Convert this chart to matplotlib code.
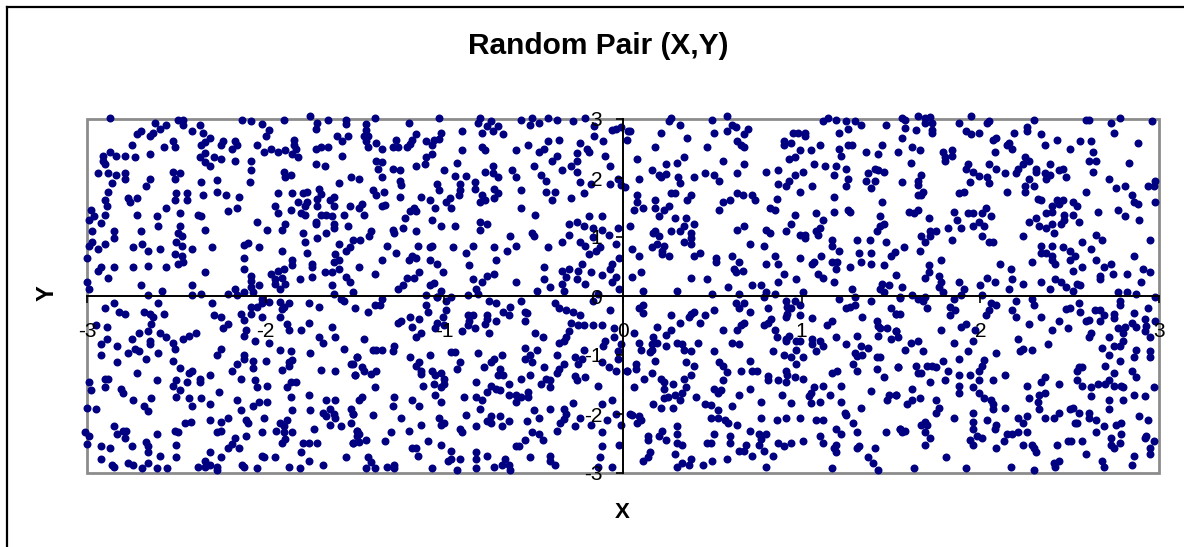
import matplotlib
matplotlib.use('Agg')
import matplotlib.pyplot as plt
import numpy as np
from matplotlib.lines import Line2D
from matplotlib.patches import Rectangle

# pairs, one list per stretch of the plot
top_1 = [(-2.87,3.02),(-2.62,2.93),(-2.56,2.90),(-2.59,2.83),(-2.63,2.77),(-2.65,2.72),(-2.70,2.80),(-2.72,2.75),(-2.75,2.56),(-2.49,2.99),(-2.46,2.99),(-2.46,2.90),(-2.37,2.90),(-2.41,2.80),(-2.35,2.77),(-2.31,2.68),(-2.34,2.61),(-2.36,2.56),(-2.52,2.62),(-2.51,2.53),(-2.57,2.53),(-2.65,2.41),(-2.24,2.62),(-2.25,2.56),(-2.17,2.62),(-2.16,2.56),(-2.19,2.50),(-2.13,2.99),(-2.08,2.96),(-2.02,2.92),(-1.98,2.82),(-2.00,2.72),(-1.90,2.99),(-1.75,3.05),(-1.71,2.93),(-1.72,2.83),(-1.65,2.99),(-1.55,2.99),(-1.55,2.92),(-1.60,2.72),(-1.54,2.72),(-1.57,2.62),(-1.84,2.65),(-1.84,2.56),(-1.83,2.50),(-1.85,2.41),(-1.82,2.35),(-1.89,2.47),(-1.93,2.44),(-1.97,2.50),(-2.01,2.44),(-2.05,2.56),(-1.72,2.50),(-1.69,2.53),(-1.65,2.53),(-1.57,2.38),(-1.72,2.23),(-1.67,2.20),(-2.87,2.44),(-2.91,2.38),(-2.91,2.29),(-2.90,2.23),(-2.84,2.38),(-2.79,2.38),(-2.73,2.36),(-2.94,2.08),(-2.88,2.08),(-2.84,2.05),(-2.79,2.08),(-2.79,1.98),(-2.86,1.92),(-2.65,1.98),(-2.67,1.86),(-2.52,2.11),(-2.48,2.08),(-2.51,1.98),(-2.37,2.35),(-2.34,2.42),(-2.29,2.35),(-2.25,2.32),(-2.34,2.27),(-2.31,2.20),(-2.17,2.29),(-2.08,2.29),(-2.08,2.14),(-1.90,2.11),(-1.86,2.05),(-1.89,2.01),(-2.09,1.93),(-2.27,1.96),(-2.36,1.93),(-2.50,1.74),(-2.44,1.74),(-2.51,1.62),(-2.44,1.62),(-2.35,1.71),(-2.27,1.77),(-2.22,1.71),(-2.15,1.68),(-2.16,1.50),(-2.21,1.44),(-2.88,1.77),(-2.90,1.62),(-2.89,1.52),(-2.98,1.46),(-2.77,1.66),(-2.76,1.59),(-2.72,1.66),(-2.56,1.50),(-2.72,1.37),(-2.61,1.35),(-2.48,1.40),(-2.38,1.37),(-2.36,1.35),(-2.60,1.19),(-2.48,1.19),(-2.34,1.12),(-2.70,1.10),(-2.85,1.10),(-2.85,0.98),(-2.97,1.10),(-2.99,1.29),(-2.96,1.35),(-2.90,1.37),(-2.92,1.23),(-2.49,1.07),(-2.47,1.01),(-2.50,0.91),(-2.47,0.85),(-2.41,0.80),(-2.30,0.83),(-2.51,0.71),(-2.47,0.67),(-2.46,0.58),(-2.49,0.55),(-2.59,0.80),(-2.66,0.77),(-2.69,0.88),(-2.74,0.83),(-2.90,0.88),(-2.97,0.92),(-2.99,0.85),(-2.94,0.80),(-3.00,0.64),(-2.92,0.49),(-2.94,0.43),(-2.85,0.49),(-2.74,0.49),(-2.66,0.51),(-2.56,0.49),(-2.34,0.40),(-2.88,0.31),(-3.00,0.24),(-2.99,0.12),(-2.70,0.19),(-2.58,0.09),(-2.41,0.19),(-2.66,0.01),(-2.41,0.01),(-2.36,0.03),(-2.21,0.03),(-2.17,0.12),(-2.16,0.01),(-2.12,0.06),(-2.08,0.15),(-2.04,0.19),(-2.07,0.06),(-2.08,0.34),(-2.08,0.26),(-2.12,0.46),(-2.12,0.64),(-2.12,0.86),(-2.10,0.89),(-2.04,0.83),(-1.91,0.77),(-2.05,1.25),(-1.99,1.12),(-1.91,1.12),(-1.89,1.22),(-1.93,1.40),(-1.95,1.53),(-1.93,1.74),(-1.85,1.74),(-1.82,1.59),(-1.86,1.46),(-1.79,1.74),(-1.77,1.77),(-1.70,1.81),(-1.69,1.73),(-1.71,1.64),(-1.77,1.59),(-1.78,1.52),(-1.71,1.53),(-1.62,1.67),(-1.64,1.62),(-1.62,1.53),(-1.59,1.92),(-1.52,2.01),(-1.48,1.98),(-1.53,1.53),(-1.48,1.50),(-1.80,1.40),(-1.78,1.37),(-1.69,1.37),(-1.66,1.37),(-1.63,1.35),(-1.56,1.37),(-1.72,1.25),(-1.72,1.22),(-1.62,1.22),(-1.62,1.15),(-1.54,1.19),(-1.79,1.07),(-1.66,1.07),(-1.71,0.98),(-1.78,0.91),(-1.59,0.88),(-1.51,0.95),(-1.53,0.83),(-1.55,0.77),(-1.77,0.73),(-1.61,0.71),(-1.59,0.61),(-1.62,0.58),(-1.85,0.61),(-1.85,0.53),(-1.74,0.55),(-1.74,0.49),(-1.74,0.33),(-1.67,0.40),(-1.63,0.40),(-1.59,0.46),(-1.55,0.33),(-1.53,0.24),(-1.63,0.19),(-1.62,0.03),(-1.51,0.06),(-1.97,0.37),(-1.93,0.43),(-1.90,0.46),(-1.95,0.29),(-1.95,0.21),(-1.91,0.31),(-1.89,0.21),(-1.92,0.12),(-1.81,0.28)]

top_2 = [(-1.39,3.02),(-1.44,2.92),(-1.44,2.82),(-1.43,2.72),(-1.45,2.72),(-1.44,2.62),(-1.43,2.53),(-1.38,2.59),(-1.35,2.50),(-1.29,2.53),(-1.27,2.65),(-1.26,2.53),(-1.21,2.53),(-1.18,2.65),(-1.19,2.58),(-1.16,2.75),(-1.20,2.94),(-1.03,3.02),(-1.10,2.62),(-1.07,2.56),(-1.06,2.65),(-1.03,2.66),(-1.02,2.77),(-0.90,2.80),(-0.81,2.93),(-0.80,3.02),(-0.74,2.96),(-0.76,2.88),(-0.73,2.80),(-0.70,2.88),(-0.79,2.77),(-0.67,2.75),(-0.57,2.99),(-0.51,3.02),(-0.52,2.90),(-0.47,2.93),(-0.42,3.02),(-0.37,2.99),(-0.28,2.96),(-0.21,3.02),(-0.16,2.88),(-0.16,2.72),(-0.11,2.62),(-0.04,2.83),(-0.01,2.86),(-0.06,2.82),(0.03,2.80),(0.02,2.65),(-0.79,2.53),(-0.77,2.47),(-0.90,2.47),(-1.07,2.41),(-1.10,2.35),(-1.11,2.23),(-1.16,2.20),(-0.93,2.25),(-1.00,2.13),(-1.38,2.29),(-1.35,2.27),(-1.37,2.16),(-1.29,2.16),(-1.25,2.13),(-1.35,2.01),(-1.25,1.95),(-1.24,1.88),(-1.40,1.80),(-1.34,1.77),(-1.38,1.71),(-1.25,1.68),(-1.13,1.68),(-1.08,1.62),(-1.04,1.90),(-1.03,1.80),(-0.97,1.66),(-0.99,1.59),(-0.96,1.50),(-1.05,1.50),(-0.94,2.04),(-0.88,2.04),(-0.91,1.90),(-0.91,1.80),(-0.92,1.71),(-0.83,1.93),(-0.83,1.82),(-0.77,2.11),(-0.73,2.20),(-0.73,2.08),(-0.70,2.01),(-0.72,1.82),(-0.70,1.74),(-0.72,1.66),(-0.79,1.71),(-0.77,1.62),(-0.80,1.59),(-0.62,2.13),(-0.60,2.01),(-0.57,1.80),(-0.57,1.50),(-0.60,2.47),(-0.53,2.56),(-0.50,2.20),(-0.46,2.05),(-0.43,1.95),(-0.43,1.77),(-0.38,1.77),(-0.40,1.62),(-0.47,2.44),(-0.44,2.50),(-0.42,2.62),(-0.36,2.65),(-0.40,2.29),(-0.37,2.38),(-0.34,2.13),(-0.29,2.20),(-0.26,2.42),(-0.26,2.29),(-0.26,2.11),(-0.24,2.60),(-0.20,2.50),(-0.19,2.44),(-0.10,2.38),(-0.07,2.20),(-0.24,1.93),(-0.18,1.89),(-0.07,1.89),(-0.03,1.98),(-0.01,1.88),(-0.22,1.74),(-0.29,1.66),(-0.49,1.37),(-0.19,1.35),(-0.12,1.35),(-0.30,1.22),(-0.26,1.25),(-0.22,1.19),(-0.17,1.16),(-0.12,1.12),(-0.03,1.16),(-0.30,1.03),(-0.08,1.03),(-0.34,0.92),(-0.24,0.92),(-0.21,0.85),(-0.17,1.00),(-0.04,0.88),(-0.13,0.83),(-0.15,0.77),(-0.19,0.71),(-0.02,0.64),(-0.23,0.55),(-0.30,0.46),(-0.34,0.43),(-0.25,0.43),(-0.18,0.40),(-0.12,0.36),(-0.07,0.46),(-0.06,0.55),(-0.04,0.33),(-0.06,0.24),(-0.32,0.32),(-0.34,0.21),(-0.26,0.28),(-0.21,0.21),(-0.33,0.09),(-0.41,0.16),(-0.44,0.28),(-0.44,0.49),(-0.48,0.09),(-0.60,0.24),(-0.02,0.12),(-1.46,1.56),(-1.45,1.37),(-1.35,1.53),(-1.33,1.55),(-1.22,1.32),(-1.17,1.50),(-1.19,1.44),(-1.16,1.44),(-1.07,1.28),(-1.02,1.19),(-0.94,1.19),(-0.80,1.25),(-0.76,1.22),(-0.80,1.12),(-1.29,1.12),(-1.28,1.07),(-1.23,1.16),(-1.16,1.10),(-1.41,1.10),(-1.42,1.01),(-1.47,0.95),(-1.32,0.85),(-1.27,0.73),(-1.15,0.85),(-1.07,0.85),(-1.08,0.83),(-0.95,0.83),(-0.84,0.85),(-0.88,0.73),(-0.72,0.83),(-0.65,0.77),(-0.60,0.85),(-0.63,1.01),(-0.51,1.07),(-0.50,1.01),(-0.42,0.83),(-0.71,0.61),(-1.18,0.67),(-1.16,0.64),(-1.20,0.61),(-1.35,0.61),(-1.08,0.61),(-1.04,0.55),(-1.48,0.49),(-1.39,0.37),(-0.86,0.53),(-1.01,0.40),(-1.14,0.40),(-1.17,0.30),(-1.21,0.30),(-1.23,0.19),(-1.26,0.12),(-1.08,0.19),(-1.06,0.22),(-1.02,0.09),(-1.10,0.01),(-1.04,-0.02),(-0.87,0.01),(-0.82,0.12),(-0.81,0.03),(-0.84,0.28),(-0.79,0.24),(-0.76,0.34),(-0.72,0.37)]

top_3 = [(0.27,3.02),(0.26,2.96),(0.32,2.90),(0.50,2.99),(0.58,3.05),(0.61,2.90),(0.63,2.86),(0.58,2.80),(0.51,2.77),(0.70,2.83),(0.68,2.75),(0.04,2.80),(0.21,2.77),(0.36,2.68),(0.18,2.53),(0.47,2.53),(0.64,2.62),(0.66,2.56),(0.68,2.53),(0.08,2.32),(0.34,2.35),(0.30,2.25),(0.24,2.23),(0.16,2.13),(0.20,2.05),(0.21,2.01),(0.24,2.07),(0.09,1.98),(0.31,2.01),(0.32,1.92),(0.40,2.01),(0.46,2.08),(0.51,2.05),(0.54,1.95),(0.56,2.28),(0.68,2.23),(0.64,2.08),(0.01,1.84),(0.08,1.71),(0.08,1.59),(0.06,1.46),(0.11,1.50),(0.18,1.62),(0.18,1.50),(0.23,1.46),(0.26,1.53),(0.27,1.74),(0.29,1.74),(0.38,1.71),(0.36,1.62),(0.20,1.35),(0.29,1.32),(0.35,1.32),(0.40,1.22),(0.34,1.19),(0.32,1.10),(0.27,1.10),(0.04,1.19),(0.17,1.07),(0.18,1.10),(0.20,1.01),(0.38,1.07),(0.38,0.98),(0.34,0.92),(0.38,0.88),(0.19,0.88),(0.23,0.85),(0.16,0.83),(0.22,0.77),(0.22,0.71),(0.26,0.67),(0.05,0.80),(0.09,0.67),(0.40,0.67),(0.43,0.73),(0.52,0.64),(0.52,0.57),(0.61,0.67),(0.65,0.58),(0.05,0.33),(0.10,0.40),(0.11,0.09),(0.30,0.09),(0.38,0.31),(0.47,0.28),(0.50,0.03),(0.59,0.16),(0.65,0.03),(0.62,0.46),(0.63,0.40),(0.67,0.43),(0.72,0.19),(0.77,0.19),(0.80,0.06),(0.79,-0.01),(0.85,0.03),(0.87,0.24),(0.90,0.37),(0.97,0.28),(1.01,0.06),(0.80,2.11),(0.87,2.13),(0.87,1.89),(0.91,1.86),(0.93,1.95),(0.96,2.05),(1.01,2.11),(0.99,1.77),(1.06,1.86),(1.07,2.23),(1.13,2.20),(1.18,2.05),(1.19,2.20),(1.25,2.16),(1.26,1.98),(1.25,1.86),(1.18,1.68),(1.36,1.95),(1.39,1.83),(1.41,1.95),(1.37,2.08),(1.41,2.16),(1.43,2.13),(1.46,2.11),(0.93,2.32),(0.96,2.35),(0.99,2.47),(1.05,2.47),(1.10,2.56),(0.90,2.62),(0.90,2.56),(0.94,2.59),(0.95,2.77),(0.98,2.77),(1.02,2.77),(1.02,2.71),(1.12,2.96),(1.15,3.02),(1.19,2.99),(1.25,2.96),(1.30,2.96),(1.33,2.90),(1.26,2.83),(1.21,2.77),(1.47,2.90),(1.21,2.50),(1.22,2.38),(1.26,2.56),(1.28,2.56),(1.36,2.44),(1.43,2.41),(1.45,2.56),(0.86,1.64),(0.82,1.50),(0.85,1.46),(0.74,1.62),(0.72,1.71),(0.67,1.71),(0.64,1.74),(0.60,1.62),(0.56,1.59),(0.54,1.46),(0.96,1.37),(0.94,1.22),(0.91,1.10),(0.64,1.12),(0.68,1.19),(0.80,1.12),(0.82,1.07),(0.71,0.88),(0.79,0.85),(0.99,1.03),(1.02,1.03),(1.02,0.98),(1.08,1.40),(1.12,1.28),(1.10,1.16),(1.08,1.10),(1.09,1.03),(1.18,1.43),(1.26,1.46),(1.27,1.43),(1.45,1.59),(1.44,1.35),(1.46,1.22),(1.44,1.19),(1.42,1.10),(1.17,0.95),(1.17,0.85),(1.21,0.77),(1.31,0.95),(1.38,0.95),(1.47,0.92),(1.32,0.73),(1.39,0.73),(1.33,0.58),(1.39,0.55),(1.46,0.53),(1.27,0.49),(1.17,0.58),(1.20,0.58),(1.19,0.46),(1.11,0.67),(1.07,0.58),(1.06,0.55),(0.99,0.64),(0.85,0.67),(0.80,0.55),(0.87,0.55),(1.09,0.37),(1.12,0.31),(1.18,0.24),(1.28,0.12),(1.45,0.21),(1.49,0.19),(1.44,0.12),(1.46,0.06),(1.30,-0.01),(1.53,0.36),(1.52,0.74),(1.50,0.67)]

top_4 = [(1.56,3.02),(1.58,2.99),(1.65,3.05),(1.69,3.02),(1.72,3.03),(1.69,2.93),(1.73,2.93),(1.58,2.84),(1.64,2.82),(1.73,2.82),(1.73,2.76),(1.88,2.93),(1.95,3.05),(2.04,2.93),(2.05,2.96),(1.92,2.80),(1.95,2.75),(1.99,2.77),(1.56,2.68),(1.62,2.53),(1.66,2.47),(1.54,2.44),(1.79,2.44),(1.84,2.47),(1.84,2.38),(1.80,2.35),(1.80,2.28),(1.61,2.25),(2.07,2.65),(2.09,2.68),(2.19,2.76),(2.26,2.86),(2.26,2.80),(2.30,2.99),(2.34,2.75),(2.15,2.56),(2.16,2.59),(2.18,2.50),(2.08,2.44),(2.36,2.56),(2.43,2.65),(2.50,2.50),(2.56,2.62),(2.62,2.62),(2.59,2.99),(2.61,2.99),(2.73,2.93),(2.78,3.02),(2.75,2.77),(2.96,2.96),(2.88,2.59),(2.63,2.44),(2.61,2.28),(2.65,2.28),(2.63,2.11),(2.83,2.25),(2.72,1.98),(2.76,1.83),(2.81,1.86),(2.94,1.86),(2.97,1.87),(2.98,1.95),(2.85,1.71),(2.86,1.59),(2.88,1.56),(2.98,1.59),(2.59,1.77),(1.93,2.23),(1.92,2.16),(1.96,2.11),(1.99,2.04),(2.05,2.23),(2.09,2.16),(2.14,2.08),(2.04,2.01),(2.05,1.92),(1.94,1.93),(1.91,1.77),(1.88,1.74),(2.15,1.77),(1.67,2.05),(1.65,1.95),(1.65,1.88),(1.56,1.93),(1.68,1.77),(1.67,1.71),(1.65,1.71),(2.25,2.35),(2.27,2.29),(2.24,2.23),(2.21,2.16),(2.20,2.08),(2.31,2.16),(2.31,2.10),(2.36,2.08),(2.39,2.05),(2.37,1.98),(2.27,1.98),(2.39,2.23),(2.44,2.13),(2.46,2.16),(2.48,2.01),(2.25,1.86),(2.30,1.86),(2.25,1.77),(2.32,1.64),(2.34,1.62),(2.43,1.62),(2.46,1.62),(2.44,1.56),(2.40,1.53),(2.40,1.43),(2.37,1.40),(2.52,1.59),(2.54,1.53),(2.66,1.43),(2.77,1.46),(2.81,1.35),(2.89,1.28),(2.47,1.37),(2.52,1.37),(2.47,1.28),(2.45,1.22),(2.55,1.25),(2.31,1.32),(2.27,1.25),(2.33,1.19),(2.37,1.16),(2.40,1.22),(2.41,1.07),(2.24,1.01),(1.60,1.43),(1.65,1.46),(1.63,1.40),(1.71,1.32),(1.85,1.43),(1.87,1.28),(1.82,1.16),(1.89,1.16),(1.93,1.40),(1.96,1.40),(2.01,1.40),(2.03,1.50),(2.06,1.35),(1.99,1.25),(1.96,1.19),(2.02,1.19),(2.01,1.01),(2.05,0.92),(2.07,0.92),(1.84,0.95),(1.72,1.10),(1.75,1.10),(1.72,1.01),(1.67,1.01),(1.69,0.92),(1.57,0.83),(1.66,0.77),(1.78,0.61),(1.71,0.53),(1.71,0.40),(1.69,0.31),(1.77,0.34),(1.78,0.24),(1.77,0.16),(1.79,0.06),(1.56,0.16),(1.55,-0.01),(1.62,0.01),(1.69,-0.02),(1.88,0.24),(1.91,0.12),(1.89,0.01),(2.01,0.01),(2.00,0.19),(2.04,0.30),(2.08,0.24),(2.11,0.55),(2.17,0.46),(2.18,0.28),(2.16,0.12),(2.24,0.21),(2.34,0.24),(2.39,0.12),(2.42,0.28),(2.45,0.24),(2.48,0.16),(2.52,0.09),(2.54,0.21),(2.56,0.19),(2.29,0.58),(2.34,0.85),(2.40,0.85),(2.34,0.73),(2.37,0.73),(2.40,0.67),(2.40,0.61),(2.42,0.55),(2.46,0.83),(2.50,0.77),(2.53,0.67),(2.50,0.61),(2.57,0.91),(2.62,0.80),(2.65,1.03),(2.68,0.95),(2.65,0.61),(2.73,0.55),(2.69,0.49),(2.57,0.49),(2.52,0.43),(2.67,0.34),(2.67,0.28),(2.74,0.37),(2.82,0.37),(2.86,0.67),(2.95,0.95),(2.91,0.46),(2.95,0.40),(2.90,0.24),(2.77,0.06),(2.82,0.06),(2.87,0.03),(2.98,-0.02)]

low_1 = [(-2.90,-0.21),(-2.85,-0.12),(-2.82,-0.27),(-2.79,-0.31),(-2.68,-0.27),(-2.65,-0.31),(-2.63,-0.36),(-2.64,-0.47),(-2.60,-0.12),(-2.57,-0.31),(-2.95,-0.49),(-2.89,-0.52),(-2.71,-0.62),(-2.66,-0.60),(-2.59,-0.63),(-2.56,-0.70),(-2.89,-0.73),(-2.92,-0.82),(-2.83,-0.85),(-2.75,-0.73),(-2.65,-0.76),(-2.65,-0.82),(-2.73,-0.89),(-2.77,-0.97),(-2.71,-0.94),(-2.60,-0.97),(-2.52,-0.79),(-2.51,-0.89),(-2.46,-0.73),(-2.43,-0.67),(-2.39,-0.63),(-2.92,-1.00),(-2.83,-1.12),(-2.67,-1.07),(-2.52,-1.10),(-2.48,-1.22),(-2.41,-1.27),(-2.43,-1.31),(-2.72,-1.31),(-2.61,-1.43),(-2.50,-1.42),(-2.44,-1.46),(-2.52,-1.53),(-2.48,-1.59),(-2.37,-1.40),(-2.37,-1.46),(-2.31,-1.34),(-2.99,-1.46),(-2.98,-1.59),(-2.90,-1.41),(-2.88,-1.40),(-2.90,-1.55),(-2.81,-1.58),(-2.80,-1.65),(-2.74,-1.76),(-2.64,-1.73),(-2.68,-1.86),(-2.66,-1.95),(-2.50,-1.71),(-2.43,-1.73),(-2.41,-1.86),(-2.36,-1.73),(-2.31,-1.83),(-2.26,-1.62),(-3.00,-1.89),(-2.95,-1.92),(-2.85,-2.21),(-2.83,-2.34),(-2.80,-2.28),(-2.78,-2.28),(-2.79,-2.41),(-3.01,-2.31),(-2.99,-2.37),(-3.00,-2.50),(-2.92,-2.55),(-2.87,-2.58),(-2.75,-2.55),(-2.67,-2.47),(-2.66,-2.55),(-2.66,-2.65),(-2.61,-2.34),(-2.51,-2.28),(-2.49,-2.31),(-2.50,-2.53),(-2.59,-2.71),(-2.50,-2.73),(-2.92,-2.76),(-2.86,-2.86),(-2.85,-2.89),(-2.77,-2.83),(-2.74,-2.86),(-2.69,-2.92),(-2.66,-2.83),(-2.61,-2.92),(-2.55,-2.92),(-2.45,-2.16),(-2.42,-2.13),(-2.31,-2.10),(-2.25,-2.13),(-2.21,-2.07),(-2.27,-2.31),(-2.25,-2.28),(-2.31,-2.65),(-2.25,-2.73),(-2.38,-2.89),(-2.34,-2.80),(-2.31,-2.86),(-2.34,-2.89),(-2.27,-2.89),(-2.27,-2.95),(-2.30,-0.12),(-2.29,-0.33),(-2.25,-0.36),(-2.21,-0.47),(-2.24,-0.55),(-2.14,-0.31),(-2.12,-0.40),(-2.08,-0.31),(-2.08,-0.19),(-2.05,-0.19),(-2.02,-0.05),(-2.02,-0.12),(-1.98,-0.10),(-1.92,-0.10),(-1.87,-0.12),(-1.90,-0.18),(-1.91,-0.22),(-2.02,-0.36),(-1.92,-0.36),(-2.11,-0.57),(-2.12,-0.67),(-2.06,-0.76),(-1.98,-0.79),(-1.88,-0.47),(-1.87,-0.57),(-1.80,-0.57),(-1.76,-0.45),(-1.76,-0.12),(-1.70,-0.18),(-1.58,-0.05),(-1.56,-0.09),(-1.50,-0.21),(-1.63,-0.52),(-1.70,-0.70),(-1.68,-0.79),(-1.61,-0.70),(-1.56,-0.89),(-1.92,-0.92),(-1.86,-0.94),(-1.75,-0.97),(-2.25,-0.89),(-2.27,-1.00),(-2.12,-1.00),(-2.12,-1.07),(-2.07,-1.10),(-2.00,-1.10),(-2.16,-1.15),(-2.19,-1.27),(-2.07,-1.22),(-2.14,-1.40),(-2.06,-1.42),(-2.05,-1.55),(-1.99,-1.52),(-1.91,-1.25),(-1.87,-1.19),(-1.85,-1.08),(-1.87,-1.12),(-1.69,-1.25),(-1.61,-1.27),(-1.52,-1.15),(-1.49,-1.03),(-1.50,-1.34),(-1.86,-1.46),(-1.83,-1.46),(-1.88,-1.55),(-1.86,-1.71),(-1.76,-1.68),(-2.16,-1.76),(-2.14,-1.94),(-2.07,-1.86),(-2.04,-1.79),(-1.99,-1.79),(-1.85,-1.94),(-1.75,-1.94),(-1.66,-1.76),(-1.61,-1.76),(-1.64,-1.92),(-1.68,-1.98),(-1.66,-2.03),(-1.62,-2.00),(-1.61,-2.06),(-1.52,-1.92),(-1.51,-2.00),(-2.01,-2.07),(-2.11,-2.10),(-2.10,-2.16),(-1.92,-2.16),(-1.88,-2.10),(-1.90,-2.21),(-1.94,-2.28),(-1.90,-2.31),(-1.85,-2.31),(-2.02,-2.31),(-2.11,-2.37),(-2.17,-2.41),(-2.19,-2.51),(-2.21,-2.58),(-2.15,-2.58),(-1.89,-2.42),(-1.91,-2.49),(-1.79,-2.49),(-1.76,-2.49),(-1.71,-2.49),(-1.73,-2.25),(-1.64,-2.19),(-1.58,-2.21),(-1.52,-2.16),(-1.49,-2.28),(-1.49,-2.37),(-1.51,-2.49),(-1.80,-2.65),(-2.02,-2.71),(-2.01,-2.73),(-1.95,-2.73),(-1.76,-2.80),(-1.55,-2.73),(-1.68,-2.86),(-1.87,-2.89),(-1.81,-2.92),(-2.13,-2.86),(-2.12,-2.89),(-2.05,-2.92)]

low_2 = [(-1.43,-0.27),(-1.39,-0.15),(-1.36,-0.15),(-1.35,-0.05),(-1.10,-0.15),(-1.09,-0.27),(-0.99,-0.09),(-0.96,-0.02),(-0.99,-0.24),(-1.04,-0.02),(-1.19,-0.36),(-1.14,-0.39),(-1.24,-0.43),(-1.26,-0.46),(-1.18,-0.52),(-1.13,-0.63),(-1.16,-0.70),(-1.04,-0.45),(-1.01,-0.36),(-1.00,-0.49),(-1.05,-0.55),(-0.87,-0.32),(-0.84,-0.32),(-0.86,-0.42),(-0.87,-0.49),(-0.83,-0.55),(-0.90,-0.60),(-0.76,-0.32),(-0.76,-0.39),(-0.77,-0.47),(-0.71,-0.43),(-0.75,-0.63),(-0.75,-0.09),(-0.71,-0.12),(-0.67,-0.27),(-0.64,-0.33),(-0.63,-0.18),(-0.57,-0.09),(-0.55,-0.27),(-0.54,-0.29),(-0.55,-0.43),(-0.38,-0.12),(-0.36,-0.21),(-0.32,-0.24),(-0.28,-0.27),(-0.24,-0.33),(-0.29,-0.46),(-0.25,-0.49),(-0.22,-0.49),(-0.17,-0.49),(-0.12,-0.49),(-0.07,-0.24),(-0.17,-0.09),(-0.14,0.03),(-0.05,-0.55),(-0.05,-0.70),(-0.01,-0.81),(-0.10,-0.76),(-0.11,-0.85),(-0.03,-0.94),(-0.03,-1.06),(-0.12,-1.12),(-0.08,-1.21),(-0.04,-1.27),(0.02,-1.27),(-0.30,-0.60),(-0.32,-0.70),(-0.33,-0.76),(-0.36,-0.80),(-0.49,-0.63),(-0.45,-0.70),(-1.45,-0.73),(-1.40,-0.91),(-1.38,-0.91),(-1.35,-0.91),(-1.28,-0.84),(-1.29,-0.94),(-1.49,-1.03),(-1.51,-1.15),(-1.46,-1.21),(-1.45,-1.27),(-1.50,-1.34),(-1.41,-1.33),(-1.38,-1.27),(-1.39,-1.55),(-1.19,-1.03),(-1.14,-1.12),(-1.16,-1.19),(-1.13,-1.27),(-1.13,-1.33),(-1.08,-1.00),(-1.07,-1.27),(-1.05,-1.34),(-1.02,-1.31),(-1.00,-1.40),(-1.00,-1.49),(-1.02,-1.55),(-1.06,-1.49),(-1.12,-1.52),(-0.96,-0.95),(-0.94,-0.95),(-0.91,-1.12),(-0.93,-1.24),(-0.81,-0.97),(-0.82,-1.46),(-0.78,-1.21),(-0.74,-1.12),(-0.72,-1.06),(-0.68,-1.00),(-0.69,-1.24),(-0.70,-1.34),(-0.67,-1.34),(-0.57,-1.40),(-0.52,-1.34),(-0.55,-0.88),(-0.48,-0.91),(-0.52,-1.00),(-0.55,-1.06),(-0.51,-1.12),(-0.44,-1.21),(-0.37,-1.00),(-0.33,-1.15),(-0.36,-1.24),(-0.37,-1.31),(-0.22,-0.91),(-0.27,-1.03),(-0.23,-1.06),(-0.25,-1.15),(-0.27,-1.36),(-0.26,-1.42),(-0.21,-1.37),(-0.14,-1.52),(-0.43,-1.40),(-0.41,-1.42),(-0.46,-1.49),(-0.41,-1.55),(-0.64,-1.49),(-0.74,-1.52),(-0.76,-1.62),(-0.71,-1.58),(-0.69,-1.59),(-0.64,-1.68),(-0.60,-1.68),(-0.57,-1.71),(-0.60,-1.79),(-0.53,-1.62),(-0.53,-1.71),(-0.89,-1.71),(-0.82,-1.71),(-0.79,-1.76),(-1.05,-1.67),(-1.02,-1.79),(-1.46,-1.71),(-1.48,-1.76),(-1.28,-1.71),(-1.29,-1.86),(-1.18,-1.76),(-1.14,-1.86),(-1.51,-2.00),(-1.40,-2.01),(-1.24,-2.07),(-1.03,-2.07),(-1.02,-2.19),(-1.00,-2.16),(-1.13,-2.19),(-0.88,-2.01),(-0.80,-1.92),(-0.74,-2.03),(-0.69,-2.03),(-0.76,-2.12),(-0.74,-2.16),(-0.64,-2.12),(-0.68,-2.21),(-0.82,-2.21),(-0.91,-2.25),(-0.90,-2.31),(-0.54,-2.12),(-0.50,-1.94),(-0.47,-2.07),(-0.41,-1.92),(-0.33,-1.92),(-0.32,-2.00),(-0.33,-2.08),(-0.35,-2.16),(-0.28,-1.82),(-0.24,-2.07),(-0.27,-2.21),(-0.18,-2.19),(-0.12,-1.83),(-0.06,-1.76),(-0.09,-2.10),(-0.04,-2.00),(0.04,-2.00),(-0.01,-2.19),(-0.37,-2.28),(-0.12,-2.31),(-0.51,-2.31),(-0.47,-2.34),(-0.45,-2.44),(-0.55,-2.44),(-0.60,-2.55),(-0.58,-2.55),(-0.12,-2.55),(-0.02,-2.53),(-1.49,-2.28),(-1.48,-2.34),(-1.44,-2.44),(-1.48,-2.47),(-1.51,-2.49),(-1.30,-2.31),(-1.33,-2.46),(-1.20,-2.28),(-1.09,-2.46),(-1.18,-2.58),(-1.16,-2.58),(-1.15,-2.71),(-1.02,-2.52),(-0.96,-2.62),(-0.82,-2.65),(-0.76,-2.71),(-0.82,-2.76),(-0.96,-2.77),(-0.98,-2.80),(-0.91,-2.76),(-1.43,-2.73),(-1.41,-2.82),(-1.44,-2.92),(-1.39,-2.92),(-1.32,-2.89),(-1.28,-2.86),(-1.28,-2.92),(-1.07,-2.92),(-0.93,-2.95),(-0.82,-2.92),(-0.72,-2.89),(-0.68,-2.86),(-0.66,-2.76),(-0.64,-2.86),(-0.63,-2.95),(-0.52,-2.73),(-0.41,-2.71),(-0.41,-2.80),(-0.38,-2.86),(-0.13,-2.73),(-0.14,-2.89),(-0.06,-2.89)]

low_3 = [(0.11,-0.15),(0.09,-0.21),(0.11,-0.28),(0.27,-0.33),(0.40,-0.27),(0.38,-0.31),(0.37,-0.36),(0.46,-0.33),(0.51,-0.24),(0.32,-0.45),(0.43,-0.45),(0.19,-0.52),(0.27,-0.57),(0.24,-0.66),(0.06,-0.63),(0.17,-0.70),(0.19,-0.79),(0.16,-0.81),(0.09,-0.79),(0.10,-0.91),(0.16,-0.91),(0.15,-0.95),(0.24,-0.84),(0.30,-0.79),(0.33,-0.81),(0.34,-0.91),(0.38,-0.94),(0.42,-0.79),(0.18,-1.10),(0.35,-1.12),(0.40,-1.19),(0.07,-1.15),(0.07,-1.24),(0.02,-1.27),(0.16,-1.31),(0.12,-1.40),(0.21,-1.40),(0.23,-1.46),(0.23,-1.58),(0.28,-1.49),(0.34,-1.40),(0.38,-1.34),(0.35,-1.55),(0.33,-1.64),(0.29,-1.68),(0.32,-1.76),(0.23,-1.73),(0.25,-1.72),(0.06,-1.55),(0.41,-1.71),(0.17,-1.83),(0.21,-1.89),(0.28,-1.89),(0.46,-1.83),(0.49,-1.85),(0.53,-1.94),(0.61,-1.86),(0.51,-0.94),(0.54,-1.12),(0.56,-1.18),(0.58,-1.28),(0.56,-1.42),(0.51,-1.58),(0.53,-1.64),(0.55,-1.60),(0.65,-1.68),(0.66,-1.27),(0.71,-1.10),(0.72,-1.27),(0.75,-1.27),(0.81,-1.36),(0.81,-1.43),(0.87,-1.42),(0.91,-1.46),(0.71,-1.58),(0.77,-1.79),(0.89,-1.67),(0.94,-1.82),(1.05,-1.64),(1.04,-1.70),(1.05,-1.82),(1.07,-1.55),(1.12,-1.52),(1.16,-1.67),(1.10,-1.79),(1.22,-1.52),(1.22,-1.79),(1.39,-1.61),(1.33,-1.89),(1.24,-1.98),(1.25,-2.02),(1.48,-1.76),(1.49,-1.67),(1.53,-1.67),(0.63,-0.12),(0.68,-0.12),(0.65,-0.21),(0.71,-0.27),(0.81,-0.21),(0.91,-0.09),(0.96,-0.09),(0.99,-0.15),(0.92,-0.18),(0.94,-0.21),(0.92,-0.31),(0.91,-0.36),(0.99,-0.33),(1.06,-0.38),(0.83,-0.39),(0.81,-0.45),(0.79,-0.49),(0.68,-0.45),(0.66,-0.49),(0.64,-0.57),(0.56,-0.57),(0.85,-0.57),(0.86,-0.70),(0.93,-0.67),(0.91,-0.73),(0.91,-0.77),(0.97,-0.76),(0.99,-0.76),(0.61,-0.79),(0.65,-0.81),(0.84,-0.94),(0.90,-1.00),(0.94,-1.03),(0.97,-0.91),(1.01,-1.03),(0.97,-1.15),(1.08,-0.94),(1.06,-0.73),(1.06,-0.81),(1.10,-0.76),(1.12,-0.84),(1.14,-0.49),(1.17,-0.43),(1.19,-0.70),(1.25,-0.81),(1.31,-0.67),(1.34,-0.36),(1.25,-0.21),(1.27,-0.18),(1.30,-0.15),(1.21,-0.05),(1.39,-0.09),(1.50,-0.21),(1.53,-0.31),(1.42,-0.43),(1.43,-0.50),(1.44,-0.55),(1.48,-0.55),(1.43,-0.67),(1.53,-0.60),(1.50,-0.73),(1.33,-0.84),(1.37,-0.88),(1.30,-0.97),(1.31,-1.01),(1.34,-1.00),(1.42,-1.03),(1.44,-1.03),(1.29,-1.15),(1.31,-1.27),(1.42,-1.24),(1.46,-1.37),(1.54,-1.21),(1.17,-1.31),(1.20,-1.27),(1.01,-1.40),(0.96,-1.37),(0.91,-1.27),(0.92,-1.34),(0.05,-2.01),(0.09,-2.03),(0.10,-2.10),(0.08,-2.16),(0.30,-2.21),(0.22,-2.28),(0.20,-2.37),(0.14,-2.37),(0.14,-2.44),(0.24,-2.44),(0.30,-2.34),(0.30,-2.49),(0.33,-2.52),(0.29,-2.68),(0.15,-2.65),(0.14,-2.73),(0.11,-2.80),(0.38,-2.76),(0.33,-2.83),(0.30,-2.89),(0.37,-2.86),(0.45,-2.86),(0.50,-2.80),(0.58,-2.76),(0.80,-2.89),(0.72,-2.71),(0.84,-2.71),(0.65,-2.62),(0.68,-2.62),(0.79,-2.62),(0.69,-2.52),(0.60,-2.49),(0.60,-2.37),(0.51,-2.34),(0.47,-2.49),(0.49,-2.49),(0.76,-2.52),(0.77,-2.42),(0.76,-2.34),(0.80,-2.34),(0.71,-2.28),(0.64,-2.19),(0.59,-2.16),(0.57,-2.10),(0.49,-2.07),(0.53,-2.07),(0.77,-2.07),(0.86,-2.10),(0.91,-2.07),(0.99,-2.07),(1.08,-2.10),(1.12,-2.10),(0.87,-2.49),(0.90,-2.55),(0.94,-2.49),(1.01,-2.46),(1.10,-2.37),(1.12,-2.49),(1.19,-2.25),(1.22,-2.34),(1.29,-2.16),(1.31,-2.31),(1.19,-2.52),(1.18,-2.58),(1.19,-2.65),(1.31,-2.58),(1.32,-2.55),(1.41,-2.58),(1.37,-2.73),(1.40,-2.83),(1.43,-2.95),(1.17,-2.92),(1.47,-2.31),(1.55,-2.25)]

low_4 = [(1.55,-0.03),(1.65,-0.05),(1.68,-0.09),(1.70,-0.21),(1.53,-0.31),(1.55,-0.31),(1.83,-0.18),(1.86,-0.24),(1.83,-0.33),(1.85,-0.05),(2.06,-0.12),(2.09,-0.15),(2.05,-0.24),(2.03,-0.33),(2.20,-0.09),(2.29,-0.05),(2.30,-0.15),(2.18,-0.24),(2.20,-0.36),(2.27,-0.47),(2.34,-0.36),(2.44,-0.42),(2.40,-0.57),(2.49,-0.55),(2.48,-0.22),(2.50,-0.21),(2.55,-0.12),(2.56,-0.27),(2.64,-0.24),(2.67,-0.24),(2.69,-0.32),(2.67,-0.43),(2.61,-0.40),(2.59,-0.43),(2.75,-0.30),(2.75,-0.37),(2.78,-0.09),(2.78,-0.16),(2.86,-0.28),(2.94,-0.21),(2.92,-0.39),(2.98,-0.43),(2.85,-0.46),(2.87,-0.52),(2.81,-0.52),(2.77,-0.55),(2.93,-0.50),(2.92,-0.59),(2.80,-0.63),(2.72,-0.70),(2.80,-0.76),(2.95,-0.70),(2.62,-0.63),(2.61,-0.70),(2.38,-0.81),(2.21,-0.73),(2.24,-0.89),(2.22,-0.94),(2.29,-0.91),(2.09,-0.97),(1.93,-0.94),(1.96,-0.76),(1.97,-0.57),(1.92,-0.47),(1.89,-0.52),(1.78,-0.57),(1.85,-0.79),(1.53,-0.60),(1.54,-0.70),(1.61,-0.79),(1.65,-0.76),(1.58,-0.91),(1.68,-0.94),(2.68,-0.88),(2.75,-0.84),(2.78,-0.84),(2.87,-0.91),(2.95,-0.94),(2.95,-1.03),(2.86,-1.03),(2.72,-1.00),(2.78,-1.10),(2.70,-1.19),(2.75,-1.31),(2.85,-1.27),(2.87,-1.37),(1.79,-1.10),(1.88,-1.06),(2.02,-1.08),(2.01,-1.18),(1.99,-1.27),(1.54,-1.21),(1.64,-1.19),(1.70,-1.19),(1.73,-1.19),(1.75,-1.21),(1.65,-1.31),(1.67,-1.31),(1.82,-1.27),(1.88,-1.34),(1.94,-1.34),(2.14,-1.34),(1.72,-1.46),(1.80,-1.42),(1.99,-1.42),(2.07,-1.42),(1.88,-1.52),(1.88,-1.64),(1.96,-1.55),(1.99,-1.64),(2.02,-1.73),(1.62,-1.58),(1.53,-1.67),(1.66,-1.73),(1.62,-1.76),(1.59,-1.83),(1.75,-1.76),(1.77,-1.89),(1.75,-1.98),(2.06,-1.76),(2.07,-1.83),(2.07,-1.92),(2.14,-1.89),(1.96,-1.98),(1.85,-2.07),(2.04,-2.10),(1.96,-2.13),(1.96,-2.25),(2.09,-2.19),(2.08,-2.25),(1.69,-2.13),(1.67,-2.19),(1.70,-2.19),(1.69,-2.31),(1.72,-2.40),(1.55,-2.25),(1.56,-2.31),(1.58,-2.28),(1.69,-2.52),(1.94,-2.44),(1.98,-2.37),(2.01,-2.40),(1.96,-2.52),(1.81,-2.73),(2.09,-2.58),(2.13,-2.46),(2.15,-2.34),(2.18,-2.34),(2.21,-2.31),(2.26,-2.31),(2.24,-2.52),(2.29,-2.52),(2.30,-2.58),(2.31,-2.65),(2.43,-2.52),(2.26,-1.52),(2.27,-1.73),(2.32,-1.79),(2.33,-1.92),(2.21,-2.07),(2.26,-2.04),(2.24,-2.16),(2.36,-2.07),(2.41,-2.07),(2.44,-1.98),(2.50,-1.92),(2.52,-1.89),(2.55,-1.98),(2.61,-1.98),(2.61,-2.07),(2.65,-2.10),(2.53,-2.16),(2.54,-2.16),(2.69,-2.21),(2.65,-2.31),(2.76,-2.19),(2.79,-2.16),(2.79,-2.34),(2.73,-2.40),(2.89,-2.04),(2.94,-2.10),(2.72,-1.92),(2.72,-1.76),(2.80,-1.76),(2.86,-1.67),(2.92,-1.70),(2.97,-1.55),(2.62,-1.70),(2.33,-1.67),(2.36,-1.64),(2.34,-1.46),(2.36,-1.37),(2.44,-1.49),(2.55,-1.21),(2.57,-1.21),(2.54,-1.27),(2.54,-1.42),(2.57,-1.52),(2.62,-1.55),(2.66,-1.49),(2.70,-1.49),(2.72,-1.42),(2.75,-1.52),(2.79,-1.52),(2.80,-1.55),(2.49,-2.46),(2.51,-2.46),(2.57,-2.46),(2.59,-2.68),(2.73,-2.52),(2.75,-2.58),(2.78,-2.49),(2.92,-2.40),(2.93,-2.37),(2.97,-2.46),(2.95,-2.58),(2.95,-2.68),(2.86,-2.71),(2.85,-2.86),(2.68,-2.80),(2.69,-2.89),(2.41,-2.83),(2.44,-2.80),(2.42,-2.89),(2.17,-2.89),(2.30,-2.95),(1.92,-2.92),(1.63,-2.92)]

title = 'Random Pair (X,Y)'
x_ticks = [-3, -2, -1, 0, 1, 2, 3]
y_ticks = [-3, -2, -1, 0, 1, 2, 3]

plt.rcParams['font.family'] = ['Liberation Sans', 'DejaVu Sans']
plt.rcParams['axes.unicode_minus'] = False

W, H = 1184, 547
fig = plt.figure(figsize=(W / 100, H / 100), dpi=100)
ax = fig.add_axes([87 / W, 1 - 473 / H, (1159 - 87) / W, (473 - 119) / H])

pts = np.array(top_1 + top_2 + top_3 + top_4 + low_1 + low_2 + low_3 + low_4)
ax.scatter(pts[:, 0], pts[:, 1], s=33, color='#000080', linewidths=0, clip_on=False, zorder=2)

ax.set_xlim(-3, 3)
ax.set_ylim(-3, 3)
ax.set_axisbelow(False)

# gray plot frame, black axes through the origin
for side in ['top', 'right']:
    ax.spines[side].set_visible(False)
ax.add_patch(Rectangle((0, 0), 1, 1, transform=ax.transAxes, fill=False, ec='#8c8c8c', lw=2, zorder=1, clip_on=False))
for side in ['left', 'bottom']:
    ax.spines[side].set_position('zero')
    ax.spines[side].set_color('black')
    ax.spines[side].set_linewidth(1.4)
    ax.spines[side].set_zorder(3)

ax.set_xticks(x_ticks)
ax.set_yticks(y_ticks)
ax.tick_params(axis='x', direction='out', length=5, width=1.2, pad=14, labelsize=15)
ax.tick_params(axis='y', direction='out', length=5, width=1.2, pad=10, labelsize=15)

fig.text(598 / W, 1 - 53.5 / H, title, ha='center', va='baseline', fontsize=21.5, fontweight='bold')
fig.text(622 / W, 1 - 513 / H, 'X', ha='center', va='center', fontsize=16, fontweight='bold')
fig.text(47 / W, 1 - 293 / H, 'Y', ha='center', va='center', rotation=90, fontsize=17, fontweight='bold')

# black edge of the chart area, only left and top are in the picture
fig.add_artist(Line2D([6.5 / W, 6.5 / W], [0, 1 - 6.5 / H], color='black', lw=1.6))
fig.add_artist(Line2D([6.5 / W, 1], [1 - 6.5 / H, 1 - 6.5 / H], color='black', lw=1.6))

fig.savefig('out.png', dpi=100)
